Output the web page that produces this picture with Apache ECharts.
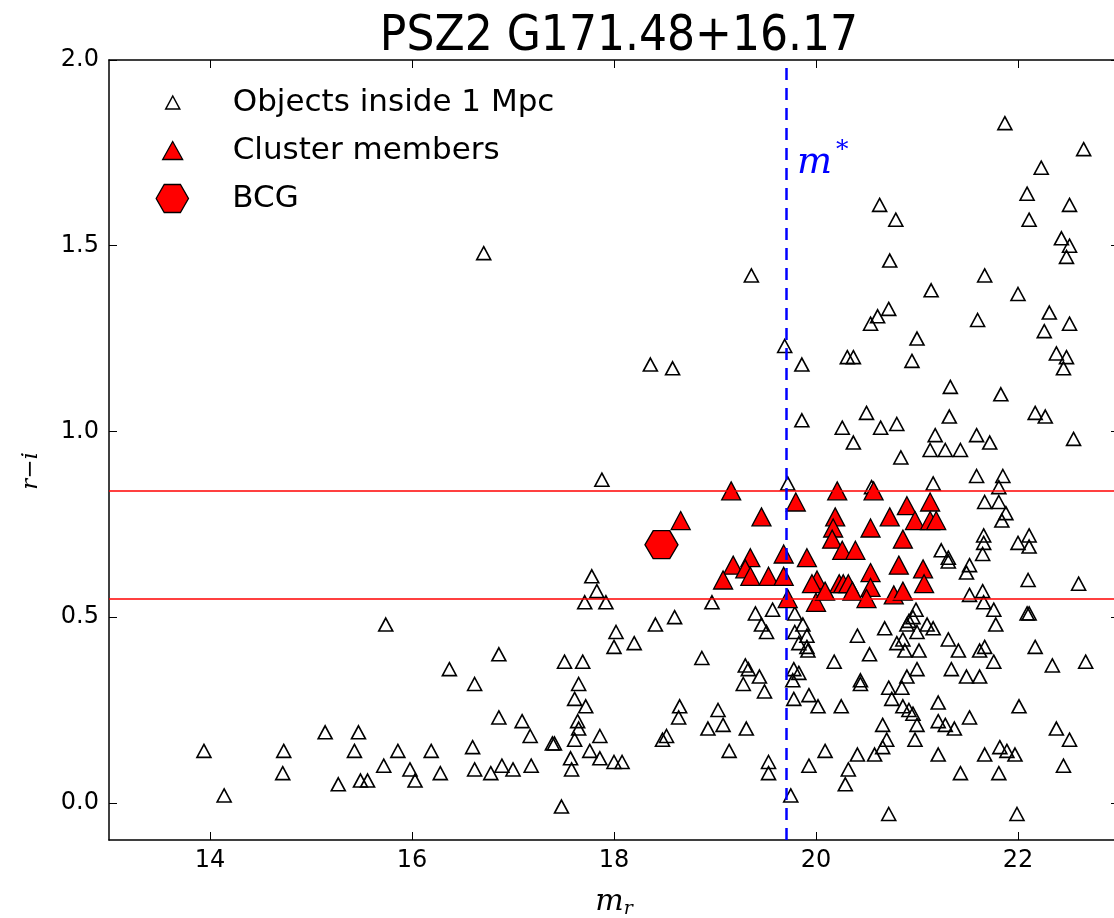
<!DOCTYPE html>
<html>
<head>
<meta charset="utf-8">
<script src="https://cdn.jsdelivr.net/npm/echarts@6/dist/echarts.min.js"></script>
<style>
  html, body { margin: 0; padding: 0; background: #ffffff; }
  #chart { width: 1114px; height: 918px; }
</style>
</head>
<body>
<div id="chart"></div>
<script>
// Galaxies within 1 Mpc of the cluster centre: r-band magnitude and r-i colour
const objectsMr = [
  13.94, 14.14, 14.73, 14.72, 15.14, 15.27, 15.47, 15.43, 15.49, 15.56,
  15.74, 15.72, 15.86, 15.98, 16.03, 16.19, 16.28, 16.37, 16.60, 16.62,
  16.62, 16.78, 16.86, 16.86, 16.89, 17.00, 17.09, 17.17, 17.18, 17.39,
  17.41, 17.48, 17.51, 17.69, 17.65, 17.61, 17.72, 17.64, 17.65, 17.61,
  17.57, 17.58, 17.78, 17.83, 17.71, 17.76, 17.92, 17.88, 18.97, 18.60,
  18.41, 18.02, 18.00, 18.20, 17.86, 17.86, 18.00, 18.08, 18.87, 18.65,
  18.64, 18.48, 18.52, 19.03, 18.93, 19.08, 19.31, 19.14, 19.53, 19.53,
  19.30, 19.33, 19.28, 19.44, 19.49, 19.40, 19.46, 19.51, 19.57, 19.72,
  19.78, 19.83, 19.77, 19.78, 19.93, 20.02, 20.09, 19.93, 19.75, 19.79,
  19.87, 19.79, 19.91, 19.83, 19.91, 19.92, 20.18, 16.71, 18.36, 18.58,
  19.36, 19.69, 19.86, 19.86, 21.87, 22.65, 22.23, 22.09, 22.51, 22.11,
  22.43, 22.51, 22.48, 20.63, 20.79, 20.73, 21.67, 21.14, 22.00, 20.72,
  20.61, 20.54, 21.60, 22.31, 22.51, 22.26, 21.00, 20.31, 20.37, 20.95,
  22.38, 22.48, 22.45, 21.33, 21.83, 20.50, 20.64, 20.80, 20.26, 20.37,
  21.32, 22.17, 22.27, 21.18, 21.59, 21.72, 22.55, 20.84, 21.13, 21.28,
  21.43, 21.59, 21.85, 21.81, 21.16, 20.55, 21.67, 21.81, 21.88, 21.84,
  21.66, 21.66, 21.65, 22.00, 22.11, 22.11, 21.24, 21.31, 21.31, 21.52,
  21.49, 22.10, 22.60, 21.52, 21.65, 21.66, 21.76, 21.78, 22.09, 22.11,
  20.99, 20.96, 20.92, 20.90, 21.00, 21.10, 21.16, 20.68, 20.41, 20.86,
  20.80, 20.88, 21.02, 21.31, 21.41, 21.62, 21.67, 22.17, 20.53, 21.00,
  20.90, 21.34, 21.49, 21.62, 21.76, 22.34, 22.67, 20.44, 20.44, 20.72,
  20.85, 20.75, 20.86, 20.92, 20.96, 21.00, 21.21, 21.21, 21.28, 21.37,
  21.52, 22.01, 20.25, 20.66, 20.70, 20.66, 20.58, 20.98, 20.41, 21.21,
  21.67, 21.82, 21.89, 21.97, 22.38, 22.51, 22.45, 20.32, 20.29, 21.43,
  21.81, 20.72, 21.99
];
const objectsRi = [
  0.14, 0.02, 0.14, 0.08, 0.19, 0.05, 0.19, 0.14, 0.06, 0.06,
  0.48, 0.10, 0.14, 0.09, 0.06, 0.14, 0.08, 0.36, 0.15, 0.09,
  0.32, 0.08, 0.40, 0.23, 0.10, 0.09, 0.22, 0.18, 0.10, 0.16,
  0.16, -0.01, 0.38, 0.38, 0.32, 0.28, 0.26, 0.22, 0.20, 0.17,
  0.12, 0.09, 0.61, 0.57, 0.54, 0.14, 0.54, 0.87, 0.54, 0.50,
  0.48, 0.46, 0.42, 0.43, 0.18, 0.12, 0.11, 0.11, 0.39, 0.26,
  0.23, 0.17, 0.18, 0.25, 0.20, 0.21, 0.20, 0.14, 0.11, 0.08,
  0.37, 0.36, 0.32, 0.34, 0.30, 0.51, 0.48, 0.46, 0.52, 0.86,
  0.36, 0.35, 0.33, 0.28, 0.29, 0.26, 0.14, 0.10, 0.02, 0.51,
  0.48, 0.46, 0.45, 0.43, 0.42, 0.41, 0.38, 1.48, 1.18, 1.17,
  1.42, 1.23, 1.18, 1.03, 1.83, 1.76, 1.71, 1.64, 1.61, 1.57,
  1.52, 1.50, 1.47, 1.61, 1.57, 1.46, 1.42, 1.38, 1.37, 1.33,
  1.31, 1.29, 1.30, 1.32, 1.29, 1.27, 1.25, 1.20, 1.20, 1.19,
  1.21, 1.20, 1.17, 1.12, 1.10, 1.05, 1.01, 1.02, 1.01, 0.97,
  1.04, 1.05, 1.04, 0.99, 0.99, 0.97, 0.98, 0.93, 0.95, 0.95,
  0.95, 0.88, 0.88, 0.85, 0.86, 0.85, 0.81, 0.81, 0.78, 0.76,
  0.72, 0.70, 0.67, 0.70, 0.72, 0.69, 0.68, 0.66, 0.65, 0.64,
  0.62, 0.60, 0.59, 0.56, 0.57, 0.54, 0.52, 0.48, 0.51, 0.51,
  0.52, 0.50, 0.49, 0.48, 0.46, 0.48, 0.47, 0.47, 0.45, 0.44,
  0.43, 0.41, 0.41, 0.44, 0.41, 0.41, 0.42, 0.42, 0.40, 0.36,
  0.34, 0.36, 0.34, 0.34, 0.38, 0.37, 0.38, 0.33, 0.32, 0.31,
  0.31, 0.28, 0.26, 0.25, 0.24, 0.21, 0.27, 0.22, 0.21, 0.20,
  0.23, 0.26, 0.26, 0.21, 0.17, 0.15, 0.13, 0.17, 0.13, 0.13,
  0.13, 0.15, 0.14, 0.13, 0.20, 0.17, 0.10, 0.09, 0.05, 0.08,
  0.08, -0.03, -0.03
];

// Red-sequence cluster members
const membersMr = [
  19.16, 18.66, 19.46, 19.80, 19.68, 19.91, 19.18, 19.35, 19.30, 19.08,
  19.35, 19.53, 19.68, 19.72, 20.01, 20.00, 20.21, 20.57, 20.19, 20.17,
  20.16, 20.26, 20.39, 20.54, 20.73, 20.90, 20.98, 21.13, 21.13, 21.19,
  20.86, 19.96, 20.23, 20.27, 20.32, 20.36, 20.54, 20.54, 20.50, 20.77,
  20.86, 20.82, 21.06, 21.07, 20.09
];
const membersRi = [
  0.84, 0.76, 0.77, 0.81, 0.67, 0.66, 0.64, 0.66, 0.63, 0.60,
  0.61, 0.61, 0.61, 0.55, 0.60, 0.54, 0.84, 0.84, 0.77, 0.74,
  0.71, 0.68, 0.68, 0.74, 0.77, 0.80, 0.76, 0.81, 0.76, 0.76,
  0.71, 0.59, 0.59, 0.59, 0.59, 0.57, 0.62, 0.58, 0.55, 0.56,
  0.57, 0.64, 0.63, 0.59, 0.57
];

// Brightest cluster galaxy
const bcgMr = [18.47];
const bcgRi = [0.695];

// Colour cut of the red sequence and the characteristic magnitude
const redSequenceLimits = [0.545, 0.845];
const mStar = 19.71;

const xTickValues = [14, 16, 18, 20, 22];
const yTickValues = [0.0, 0.5, 1.0, 1.5, 2.0];

const pairs = (xs, ys) => xs.map((x, i) => [x, ys[i]]);

const hexagonPath = 'path://M0,43.3 L25,0 L75,0 L100,43.3 L75,86.6 L25,86.6 Z';
const tickFont = { fontFamily: 'DejaVu Sans', fontSize: 24, color: '#000' };
const legendFont = 'DejaVu Sans';
const textStart = 232;   // left edge of legend texts
const iconCentre = 172;  // centre of legend icons

function legendEntry(name, icon, w, h, rowTop, borderWidth) {
  return {
    data: [{ name: name, icon: icon }],
    left: iconCentre - w / 2,
    top: rowTop,
    padding: 0,
    itemWidth: w,
    itemHeight: h,
    selectedMode: false,
    itemStyle: { borderWidth: borderWidth },
    formatter: n => '{g| }{t|' + n + '}',
    textStyle: {
      rich: {
        g: { width: textStart - (iconCentre + w / 2 + 5), fontSize: 31, lineHeight: 36 },
        t: { fontFamily: legendFont, fontSize: 31, lineHeight: 36, color: '#000' }
      }
    }
  };
}

const frameAxis = (extra) => Object.assign({
  type: 'value',
  axisLine: { show: true, onZero: false, lineStyle: { color: '#000', width: 1.5 } },
  splitLine: { show: false }
}, extra);

const chart = echarts.init(document.getElementById('chart'), null, { renderer: 'canvas' });

chart.setOption({
  animation: false,
  backgroundColor: '#ffffff',
  title: {
    text: 'PSZ2 G171.48+16.17',
    left: 614,
    top: 8,
    textAlign: 'center',
    textStyle: { fontFamily: 'DejaVu Sans Condensed, DejaVu Sans', fontSize: 49, fontWeight: 'normal', color: '#000' }
  },
  legend: [
    legendEntry('Objects inside 1 Mpc', 'triangle', 14, 13, 87, 1.5),
    legendEntry('Cluster members', 'triangle', 20, 18, 135, 1.3),
    legendEntry('BCG', hexagonPath, 33, 28, 183, 1.3)
  ],
  grid: { left: 109, top: 60, width: 1010, height: 780, containLabel: false, outerBoundsMode: 'none' },
  xAxis: [
    frameAxis({
      min: 13, max: 23, position: 'bottom',
      axisTick: { inside: true, length: 8, customValues: xTickValues, lineStyle: { color: '#000', width: 1 } },
      axisLabel: Object.assign({ customValues: xTickValues, margin: 9 }, tickFont),
      name: '{m|m}{r|r}',
      nameLocation: 'middle',
      nameGap: 42,
      nameTextStyle: {
        rich: {
          m: { fontFamily: 'DejaVu Serif', fontStyle: 'italic', fontSize: 30, color: '#000', lineHeight: 40 },
          r: { fontFamily: 'DejaVu Serif', fontStyle: 'italic', fontSize: 19, color: '#000', padding: [14, 0, 0, 0], lineHeight: 40 }
        }
      }
    }),
    frameAxis({
      min: 13, max: 23, position: 'top',
      axisTick: { inside: true, length: 8, customValues: xTickValues, lineStyle: { color: '#000', width: 1 } },
      axisLabel: { show: false }
    })
  ],
  yAxis: [
    frameAxis({
      min: -0.1, max: 2.0, position: 'left',
      axisTick: { inside: true, length: 8, customValues: yTickValues, lineStyle: { color: '#000', width: 1 } },
      axisLabel: Object.assign({ customValues: yTickValues, margin: 10, formatter: v => v.toFixed(1) }, tickFont),
      name: 'r\u2212i',
      nameLocation: 'middle',
      nameGap: 66,
      nameTextStyle: {
        fontFamily: 'DejaVu Serif', fontStyle: 'italic', fontSize: 23, color: '#000',
        padding: [0, 42, 0, 0]
      }
    }),
    frameAxis({
      min: -0.1, max: 2.0, position: 'right',
      axisTick: { inside: true, length: 8, customValues: yTickValues, lineStyle: { color: '#000', width: 1 } },
      axisLabel: { show: false }
    })
  ],
  graphic: [{
    type: 'text',
    left: 797,
    top: 138,
    style: {
      text: '{m|m}{s|*}',
      rich: {
        m: { fontFamily: 'DejaVu Serif', fontStyle: 'italic', fontSize: 37, fill: '#0000ff', lineHeight: 44, verticalAlign: 'bottom' },
        s: { fontFamily: 'DejaVu Serif', fontSize: 25, fill: '#0000ff', lineHeight: 44, verticalAlign: 'top', padding: [0, 0, 0, 4] }
      }
    }
  }],
  series: [
    {
      name: 'Objects inside 1 Mpc',
      type: 'scatter',
      data: pairs(objectsMr, objectsRi),
      symbol: 'triangle',
      symbolSize: [14, 13],
      itemStyle: { color: 'rgba(255,255,255,0)', borderColor: '#000', borderWidth: 1.6, opacity: 1 },
      emphasis: { disabled: true },
      z: 2
    },
    {
      name: 'Cluster members',
      type: 'scatter',
      data: pairs(membersMr, membersRi),
      symbol: 'triangle',
      symbolSize: [19, 18],
      itemStyle: { color: '#ff0000', borderColor: '#000', borderWidth: 1.3, opacity: 1 },
      emphasis: { disabled: true },
      z: 2
    },
    {
      name: 'BCG',
      type: 'scatter',
      data: pairs(bcgMr, bcgRi),
      symbol: hexagonPath,
      symbolSize: [33, 28],
      itemStyle: { color: '#ff0000', borderColor: '#000', borderWidth: 1.3, opacity: 1 },
      emphasis: { disabled: true },
      z: 2
    },
    {
      type: 'line',
      data: [],
      z: 3,
      markLine: {
        silent: true,
        symbol: ['none', 'none'],
        label: { show: false },
        animation: false,
        data: [
          { yAxis: redSequenceLimits[1], lineStyle: { color: '#ff0000', width: 1.6, type: 'solid' } },
          { yAxis: redSequenceLimits[0], lineStyle: { color: '#ff0000', width: 1.6, type: 'solid' } },
          { xAxis: mStar, lineStyle: { color: '#0000ff', width: 2.5, type: [12, 8] } }
        ]
      }
    }
  ]
});
</script>
</body>
</html>
